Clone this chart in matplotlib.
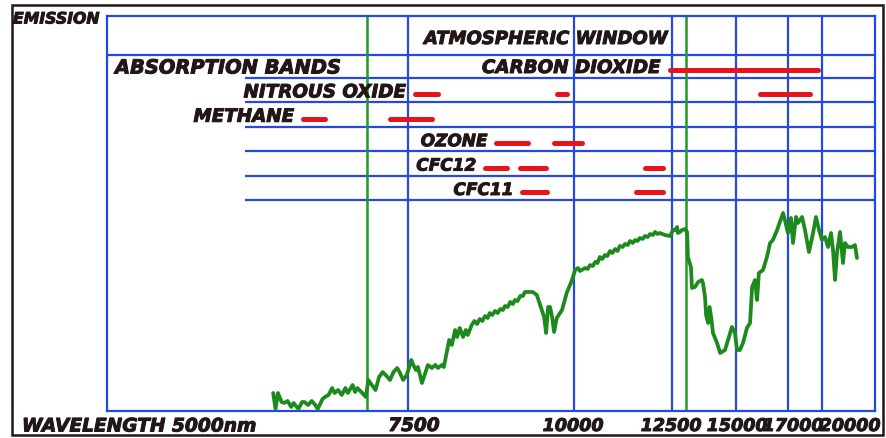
import numpy as np
import matplotlib
matplotlib.use("Agg")
import matplotlib.pyplot as plt
import matplotlib.patheffects as pe
from matplotlib.patches import Rectangle

# ---------------- data ----------------
curve_wl = [6380, 6400, 6420, 6450, 6470, 6500, 6530, 6550, 6590, 6620, 6640, 6670, 6700, 6730, 6750,
            6790, 6810, 6840, 6870, 6890, 6920, 6950, 6980, 7000, 7040, 7060, 7080, 7120, 7150, 7170,
            7200, 7230, 7260, 7290, 7330, 7350, 7380, 7410, 7430, 7460, 7490,
            7550, 7580, 7620, 7650, 7710, 7760, 7800, 7860, 7910, 7950, 8010, 8040, 8090, 8120, 8160,
            8210, 8240, 8280, 8330, 8370, 8400, 8460, 8500, 8540, 8580, 8620, 8660, 8700, 8730, 8770,
            8810, 8850, 8890, 8930, 8960, 9000, 9040, 9080, 9110, 9150, 9190, 9230, 9260, 9320, 9380,
            9440, 9490, 9550, 9580, 9610, 9640, 9670, 9700, 9740, 9820, 9890, 9970,
            10030, 10100, 10150, 10200, 10280, 10350, 10410, 10480, 10540, 10600, 10660, 10720, 10790,
            10850, 10920, 10980, 11050, 11110, 11170, 11240, 11300, 11370, 11430, 11500, 11560, 11620,
            11680, 11750, 11810, 11880, 11940, 12010, 12070, 12130, 12190, 12320, 12450,
            12540, 12620, 12700, 12730, 12810, 12890, 13010, 13090, 13120, 13240, 13280, 13400, 13520,
            13670, 13710, 13790, 13830, 13910, 13970, 14060, 14100, 14260, 14380, 14570, 14690, 14840,
            14960, 15040, 15150, 15270, 15420, 15540, 15620, 15730, 15810, 15880, 16040, 16190, 16310,
            16420, 16580, 16690, 16810, 16880, 17000, 17260, 17440, 17710, 17880, 18240, 18500, 18850,
            19210, 19470, 19740, 20000, 20280, 20570, 20850, 21040, 21230, 21410, 21700, 21980, 22170,
            22450, 22830, 23110, 23300]
curve_em = [18, 2, 18, 9, 8, 10, 4, 8, 2, 9, 9, 6, 10, 6, 2,
            12, 14, 16, 23, 18, 21, 16, 23, 18, 26, 19, 23, 18, 14, 31,
            26, 21, 34, 39, 34, 31, 39, 43, 39, 31, 36,
            51, 46, 41, 44, 28, 38, 46, 43, 46, 43, 46, 44, 61, 71, 66,
            81, 74, 83, 74, 81, 76, 86, 90, 87, 92, 90, 95, 93, 98, 96,
            100, 98, 102, 101, 105, 104, 109, 107, 111, 110, 115, 115, 119, 119, 119,
            116, 106, 94, 78, 104, 104, 94, 79, 93, 101, 118, 131,
            141, 143, 140, 141, 143, 142, 146, 145, 149, 148, 154, 152, 156,
            155, 160, 158, 162, 160, 165, 164, 167, 166, 170, 168, 171, 170,
            173, 172, 175, 174, 177, 176, 179, 177, 178, 176, 175,
            181, 181, 184, 178, 179, 181, 182, 179, 154, 144, 123, 124, 129,
            131, 128, 114, 96, 88, 104, 88, 78, 68, 58, 61, 71, 84,
            78, 61, 61, 68, 83, 88, 124, 131, 111, 138, 141, 154, 168,
            171, 181, 189, 198, 191, 178, 193, 168, 194, 188, 194, 181, 159,
            178, 194, 181, 171, 174, 164, 178, 161, 131, 158, 179, 148, 168,
            164, 164, 166, 153]

gases = ["CARBON DIOXIDE", "NITROUS OXIDE", "METHANE", "OZONE", "CFC12", "CFC11"]
bands = [
    [(12450, 19650)],
    [(7610, 7950), (9740, 9890), (15920, 18940)],
    [(6630, 6810), (7350, 7860)],
    [(8830, 9310), (9700, 10200)],
    [(8660, 8990), (9190, 9580), (11810, 12270)],
    [(9220, 9590), (11580, 12270)],
]
grid_wl = [7500, 10000, 12500, 15000, 17000, 20000]
window_wl = [7160, 13050]
tick_wl = [5000, 7500, 10000, 12500, 15000, 17000, 20000]
tick_labels = ["WAVELENGTH 5000nm", "7500", "10000", "12500", "15000", "17000", "20000"]

# ---------------- style ----------------
BLUE = "#2448e0"
GREEN = "#1f9a22"
CURVE = "#1c8a1c"
RED = "#e8141c"
INK = "#221616"
FONT = dict(family="DejaVu Sans", weight="bold", style="italic", color=INK,
            path_effects=[pe.withStroke(linewidth=0.7, foreground=INK)])

# hand-drawn, non-linear wavelength axis
SCALE_WL = [5000, 7500, 10000, 12500, 15000, 17000, 20000, 25000]
SCALE_POS = [0, 301, 467, 565, 629, 681, 715, 768]


def fwd(x):
    return np.interp(x, SCALE_WL, SCALE_POS)


def inv(p):
    return np.interp(p, SCALE_POS, SCALE_WL)


W, H = 886, 438
fig = plt.figure(figsize=(W / 100, H / 100), dpi=100)
L, R, T, B = 107, 875, 16, 411
ax = fig.add_axes([L / W, 1 - B / H, (R - L) / W, (B - T) / H])
ax.set_xscale("function", functions=(fwd, inv))
ax.set_xlim(5000, 25000)
ax.set_ylim(0, B - T)
ax.set_xticks([])
ax.set_yticks([])
ax.minorticks_off()
for s in ax.spines.values():
    s.set_color(BLUE)
    s.set_linewidth(1.6)

# grid
for wl in grid_wl:
    ax.axvline(wl, color=BLUE, lw=1.6, zorder=1)
ax.axhline(356, color=BLUE, lw=1.6, zorder=1)
row_bottom = [333 - 24.4 * i for i in range(len(gases))]
for yb in row_bottom:
    ax.hlines(yb, 6150, 25000, color=BLUE, lw=1.6, zorder=1)

# atmospheric window
for wl in window_wl:
    ax.axvline(wl, color=GREEN, lw=1.8, zorder=2)

# emission curve
ax.plot(curve_wl, curve_em, color=CURVE, lw=2.7, solid_joinstyle="round",
        solid_capstyle="round", zorder=4)

# absorption bands
for gas, segs, yb in zip(gases, bands, row_bottom):
    for a, b in segs:
        ax.plot([a, b], [yb + 8, yb + 8], color=RED, lw=3.6, solid_capstyle="round", zorder=5)
    ax.annotate(gas, xy=(segs[0][0], yb + 10), xytext=(-9, 0), textcoords="offset pixels",
                ha="right", va="center", fontsize=13.2 if len(gas) > 6 else 12.2, **FONT)

ax.annotate("ABSORPTION BANDS", xy=(5000, row_bottom[0] + 10), xytext=(8, 0),
            textcoords="offset pixels", ha="left", va="center", fontsize=14, **FONT)
ax.annotate("ATMOSPHERIC WINDOW", xy=(window_wl[1], 372), xytext=(-19, 0),
            textcoords="offset pixels", ha="right", va="center", fontsize=13, **FONT)

# bottom labels
offsets = [0, 6, -1, -1, 1, 5, 28]
for wl, lab, dx in zip(tick_wl, tick_labels, offsets):
    if wl == 5000:
        fig.text(22 / W, 1 - 426 / H, lab, ha="left", va="center", fontsize=13.4, **FONT)
    else:
        ax.annotate(lab, xy=(wl, 0), xycoords=("data", "axes fraction"), xytext=(dx, -15),
                    textcoords="offset pixels", ha="center", va="center",
                    fontsize=13.3 if len(lab) == 4 else 12.6, **FONT)

fig.text(13 / W, 1 - 19 / H, "EMISSION", ha="left", va="center", fontsize=11.3, **FONT)

# outer frame
fig.add_artist(Rectangle((12 / W, 1 - 435 / H), (883 - 12) / W, (435 - 5) / H,
                         transform=fig.transFigure, fill=False, ec=INK, lw=1.8))

fig.savefig("out.png", dpi=100)
